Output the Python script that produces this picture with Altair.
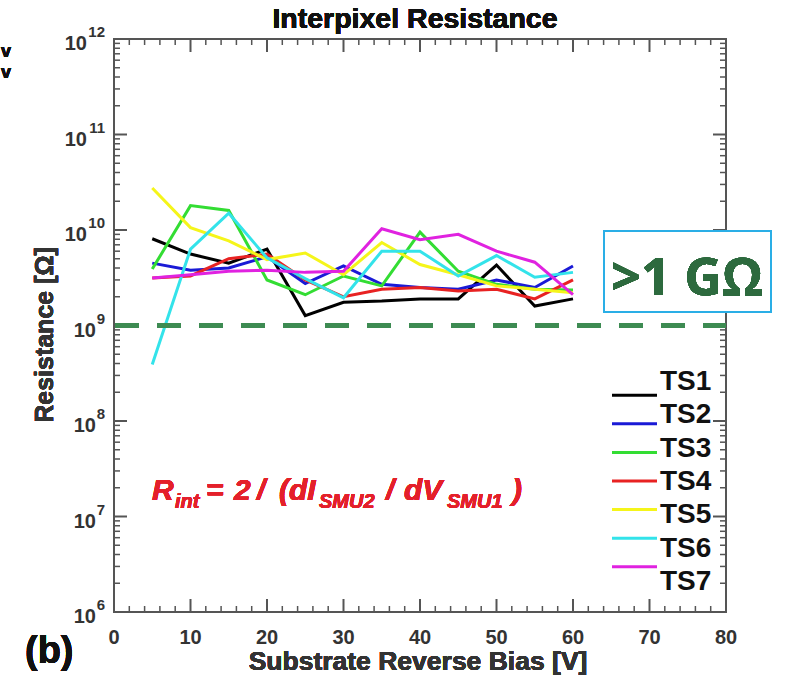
import altair as alt
import pandas as pd

# ---------------- data ----------------
series_names = ["TS1", "TS2", "TS3", "TS4", "TS5", "TS6", "TS7"]
series_colors = ["#000000", "#1a1ad6", "#33dd33", "#e82222", "#f5f51a", "#33e3ea", "#e022e0"]
bias = [5, 10, 15, 20, 25, 30, 35, 40, 45, 50, 55, 60]
ts1 = [8.1e9, 5.6e9, 4.5e9, 6.3e9, 1.27e9, 1.75e9, 1.8e9, 1.9e9, 1.9e9, 4.3e9, 1.6e9, 1.9e9]
ts2 = [4.5e9, 3.8e9, 4.0e9, 5.25e9, 2.75e9, 4.2e9, 2.7e9, 2.5e9, 2.4e9, 3.0e9, 2.5e9, 4.2e9]
ts3 = [3.9e9, 1.8e10, 1.6e10, 3.0e9, 2.1e9, 3.3e9, 2.6e9, 9.5e9, 3.7e9, 2.7e9, 2.4e9, 2.35e9]
ts4 = [3.15e9, 3.3e9, 5.0e9, 5.6e9, 3.0e9, 2.0e9, 2.4e9, 2.5e9, 2.3e9, 2.4e9, 1.9e9, 3.0e9]
ts5 = [2.75e10, 1.06e10, 7.7e9, 4.9e9, 5.75e9, 3.4e9, 7.4e9, 4.35e9, 3.4e9, 2.6e9, 2.4e9, 2.2e9]
ts6 = [3.9e8, 6.3e9, 1.5e10, 5.1e9, 3.1e9, 1.95e9, 6.0e9, 6.0e9, 3.3e9, 5.4e9, 3.2e9, 3.6e9]
ts7 = [3.15e9, 3.4e9, 3.7e9, 3.8e9, 3.6e9, 3.7e9, 1.03e10, 7.9e9, 9.0e9, 6.0e9, 4.6e9, 2.1e9]
threshold = 1e9

x_major = [0, 10, 20, 30, 40, 50, 60, 70, 80]
x_minor = [v for v in range(0, 81, 2) if v % 10 != 0]
y_exponents = [6, 7, 8, 9, 10, 11, 12]
y_minor = [k * 10 ** e for e in range(6, 12) for k in range(2, 10)]

# ---------------- tables ----------------
all_series = [ts1, ts2, ts3, ts4, ts5, ts6, ts7]
rows = []
for name, vals in zip(series_names, all_series):
    for b, r in zip(bias, vals):
        rows.append({"series": name, "bias": b, "R": r})
df = pd.DataFrame(rows)
xmaj = pd.DataFrame({"x": x_major})
xmin = pd.DataFrame({"x": x_minor})
ymaj = pd.DataFrame({"y": [10.0 ** e for e in y_exponents], "e": [str(e) for e in y_exponents]})
ymin = pd.DataFrame({"y": y_minor})
leg = pd.DataFrame({"series": series_names})

W, H = 612, 573
FONT = "Liberation Sans"
AX = "#555555"

xs = alt.Scale(domain=[0, 80], nice=False)
ys = alt.Scale(type="log", domain=[1e6, 1e12], nice=False)
cs = alt.Scale(domain=series_names, range=series_colors)


def X(f):
    return alt.X(f, scale=xs, axis=None)


def Y(f):
    return alt.Y(f, scale=ys, axis=None)


layers = []

# frame
layers.append(alt.Chart(xmaj).mark_rect(fill=None, stroke=AX, strokeWidth=2).encode(
    x=alt.value(0), x2=alt.value(W), y=alt.value(0), y2=alt.value(H)))

# ticks
for data, ln, sw in [(xmaj, 13, 2), (xmin, 6, 1.5)]:
    base = alt.Chart(data).mark_rule(color=AX, strokeWidth=sw)
    layers.append(base.encode(x=X("x:Q"), y=alt.value(H), y2=alt.value(H - ln)))
    layers.append(base.encode(x=X("x:Q"), y=alt.value(0), y2=alt.value(ln)))
for data, ln, sw in [(ymaj, 13, 2), (ymin, 6, 1.5)]:
    base = alt.Chart(data).mark_rule(color=AX, strokeWidth=sw)
    layers.append(base.encode(y=Y("y:Q"), x=alt.value(0), x2=alt.value(ln)))
    layers.append(base.encode(y=Y("y:Q"), x=alt.value(W), x2=alt.value(W - ln)))

# series lines
layers.append(alt.Chart(df).mark_line(strokeWidth=3).encode(
    x=X("bias:Q"), y=Y("R:Q"),
    color=alt.Color("series:N", scale=cs, legend=None),
    order=alt.Order("series:N")))

# threshold dashed line
layers.append(alt.Chart(xmaj).mark_rule(color="#3d8b52", strokeWidth=5, strokeDash=[24, 18]).encode(
    y=alt.datum(threshold, scale=ys, axis=None), x=alt.value(1), x2=alt.value(W)))

# box annotation
layers.append(alt.Chart(xmaj).mark_rect(fill="white", stroke="#2aaee6", strokeWidth=2).encode(
    x=alt.value(490), x2=alt.value(657), y=alt.value(192), y2=alt.value(273)))
layers.append(alt.Chart(xmaj).mark_text(text=">1 GΩ", font="Open Sans", fontWeight="bold", fontSize=52,
                                        color="#2d6a3e", align="center", baseline="alphabetic").encode(
    x=alt.value(573), y=alt.value(256)))

# x tick labels
layers.append(alt.Chart(xmaj).mark_text(font=FONT, fontWeight="bold", fontSize=20, color="#333333",
                                        baseline="top").encode(
    x=X("x:Q"), y=alt.value(H + 16), text="x:Q"))

# y tick labels (10 with superscript exponent)
layers.append(alt.Chart(ymaj).mark_text(font=FONT, fontWeight="bold", fontSize=15, color="#333333",
                                        align="right", baseline="alphabetic", dy=-2).encode(
    y=Y("y:Q"), x=alt.value(-9), text="e:N"))
layers.append(alt.Chart(ymaj).transform_filter("datum.e.length > 1").mark_text(
    text="10", font=FONT, fontWeight="bold", fontSize=20, color="#333333",
    align="right", baseline="alphabetic", dy=11).encode(y=Y("y:Q"), x=alt.value(-27)))
layers.append(alt.Chart(ymaj).transform_filter("datum.e.length == 1").mark_text(
    text="10", font=FONT, fontWeight="bold", fontSize=20, color="#333333",
    align="right", baseline="alphabetic", dy=11).encode(y=Y("y:Q"), x=alt.value(-18)))


def label(txt, x, y, size, color="#333333", style="normal", align="left", angle=0, font=FONT):
    kw = dict(text=txt, font=font, fontWeight="bold", fontSize=size, color=color, fontStyle=style,
              align=align, baseline="alphabetic")
    if angle:
        kw["angle"] = angle
    return alt.Chart(xmaj).mark_text(**kw).encode(x=alt.value(x), y=alt.value(y))


# titles
layers.append(label("Interpixel Resistance", 301, -11, 28.5, color="#111111", align="center"))
layers.append(label("Substrate Reverse Bias [V]", 304, 631, 26.5, align="center"))
layers.append(label("Resistance [Ω]", -61, 296, 25, align="center", angle=270))
layers.append(label("(b)", -89, 624, 38, color="#111111"))
layers.append(label("v", -113, 18, 18, color="#111111"))
layers.append(label("v", -113, 39, 18, color="#111111"))

# formula
RED = "#e4202a"
for txt, x, sub in [("R", 38, False), ("int", 61, True), ("=", 92, False), ("2", 120, False),
                    ("/", 143, False), ("(dI", 165, False), ("SMU2", 205, True), ("/", 272, False),
                    ("dV", 290, False), ("SMU1", 333, True), (")", 398, False)]:
    layers.append(label(txt, x, 469 if sub else 461, 20 if sub else 30, color=RED, style="italic"))

# legend
ly = alt.Scale(domain=series_names, range=[342, 542], padding=0)
layers.append(alt.Chart(leg).mark_rule(strokeWidth=3).encode(
    y=alt.Y("series:N", scale=ly, axis=None),
    x=alt.value(498), x2=alt.value(543),
    color=alt.Color("series:N", scale=cs, legend=None)))
layers.append(alt.Chart(leg).mark_text(font=FONT, fontWeight="bold", fontSize=28, color="#111111",
                                       align="left", baseline="middle", dy=1).encode(
    y=alt.Y("series:N", scale=ly, axis=None), x=alt.value(546), text="series:N"))

chart = alt.layer(*layers).resolve_scale(y="independent").properties(
    width=W, height=H,
    autosize=alt.AutoSizeParams(type="none"),
    padding={"left": 114, "top": 39, "right": 61, "bottom": 69},
    background="white",
).configure_view(stroke=None)

chart.save("out.html", embed_options={"renderer": "svg", "actions": False})
